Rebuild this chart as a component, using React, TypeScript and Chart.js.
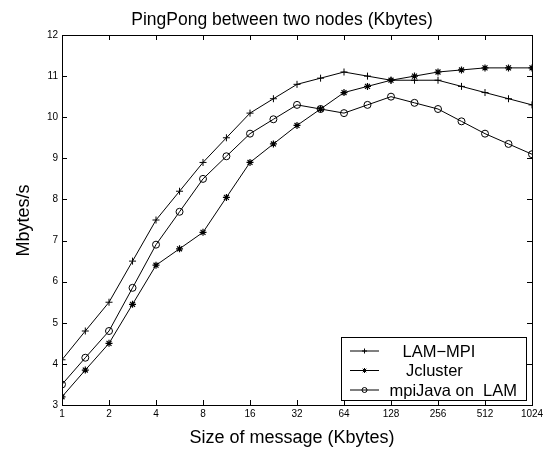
import React, { useEffect, useRef } from 'react';
import { Chart, registerables } from 'chart.js';

Chart.register(...registerables);

// Message sizes (Kbytes), half-octave steps
const sizes = [1, 1.41, 2, 2.83, 4, 5.66, 8, 11.3, 16, 22.6, 32, 45.3, 64, 90.5, 128, 181, 256, 362, 512, 724, 1024];
const lamMpi = [4.1, 4.8, 5.5, 6.5, 7.5, 8.2, 8.9, 9.5, 10.1, 10.45, 10.8, 10.95, 11.1, 11.0, 10.9, 10.9, 10.9, 10.75, 10.6, 10.45, 10.3];
const jcluster = [3.2, 3.85, 4.5, 5.45, 6.4, 6.8, 7.2, 8.05, 8.9, 9.35, 9.8, 10.2, 10.6, 10.75, 10.9, 11.0, 11.1, 11.15, 11.2, 11.2, 11.2];
const mpiJava = [3.5, 4.15, 4.8, 5.85, 6.9, 7.7, 8.5, 9.05, 9.6, 9.95, 10.3, 10.2, 10.1, 10.3, 10.5, 10.35, 10.2, 9.9, 9.6, 9.35, 9.1];

const xTicks = [1, 2, 4, 8, 16, 32, 64, 128, 256, 512, 1024];
const yTicks = [3, 4, 5, 6, 7, 8, 9, 10, 11, 12];
const seriesNames = ['LAM\u2212MPI', 'Jcluster', 'mpiJava on  LAM'];
const titleText = 'PingPong between two nodes (Kbytes)';
const xTitle = 'Size of message (Kbytes)';
const yTitle = 'Mbytes/s';

const FONT = '"Liberation Sans", Arial, Helvetica, sans-serif';

function drawMarker(ctx: CanvasRenderingContext2D, style: string, x: number, y: number, r: number) {
  ctx.beginPath();
  if (style === 'cross') {
    ctx.moveTo(x - r, y); ctx.lineTo(x + r, y);
    ctx.moveTo(x, y - r); ctx.lineTo(x, y + r);
  } else if (style === 'star') {
    ctx.moveTo(x - r, y); ctx.lineTo(x + r, y);
    ctx.moveTo(x, y - r); ctx.lineTo(x, y + r);
    const d = r * 0.707;
    ctx.moveTo(x - d, y - d); ctx.lineTo(x + d, y + d);
    ctx.moveTo(x - d, y + d); ctx.lineTo(x + d, y - d);
  } else {
    ctx.arc(x, y, r, 0, Math.PI * 2);
  }
  ctx.stroke();
}

const decorPlugin = {
  id: 'decor',
  afterDraw(chart: any) {
    const { ctx, chartArea: ca, scales } = chart;
    const xs = scales.x;
    const ys = scales.y;
    ctx.save();
    ctx.strokeStyle = '#000';
    ctx.lineWidth = 1;
    // frame
    ctx.strokeRect(ca.left + 0.5, ca.top + 0.5, ca.right - ca.left, ca.bottom - ca.top);
    // inward ticks
    ctx.beginPath();
    xTicks.forEach((v) => {
      const px = Math.round(xs.getPixelForValue(v)) + 0.5;
      ctx.moveTo(px, ca.bottom);
      ctx.lineTo(px, ca.bottom - 5);
      ctx.moveTo(px, ca.top);
      ctx.lineTo(px, ca.top + 5);
    });
    yTicks.forEach((v) => {
      const py = Math.round(ys.getPixelForValue(v)) + 0.5;
      ctx.moveTo(ca.left, py);
      ctx.lineTo(ca.left + 5, py);
      ctx.moveTo(ca.right, py);
      ctx.lineTo(ca.right - 5, py);
    });
    ctx.stroke();

    // titles
    ctx.fillStyle = '#000';
    ctx.textAlign = 'center';
    ctx.textBaseline = 'alphabetic';
    ctx.font = `17.5px ${FONT}`;
    ctx.fillText(titleText, 282, 25);
    ctx.font = `18px ${FONT}`;
    ctx.fillText(xTitle, 292, 443);
    ctx.save();
    ctx.translate(29, 220.5);
    ctx.rotate(-Math.PI / 2);
    ctx.fillText(yTitle, 0, 0);
    ctx.restore();

    // legend
    const bx = 341.5, by = 337.5, bw = 185, bh = 63;
    ctx.fillStyle = '#fff';
    ctx.fillRect(bx, by, bw, bh);
    ctx.strokeRect(bx, by, bw, bh);
    const rows = [351, 370.5, 390];
    const styles = ['cross', 'star', 'circle'];
    const textX = [402.5, 406, 389.5];
    ctx.font = `16.5px ${FONT}`;
    ctx.textAlign = 'left';
    ctx.fillStyle = '#000';
    rows.forEach((ry, i) => {
      ctx.beginPath();
      ctx.moveTo(350, ry);
      ctx.lineTo(379, ry);
      ctx.stroke();
      drawMarker(ctx, styles[i], 364.5, ry, i === 2 ? 2.5 : 2.5);
      ctx.fillText(seriesNames[i], textX[i], ry + 5.9);
    });
    ctx.restore();
  },
};

export default function App() {
  const ref = useRef<HTMLCanvasElement>(null);
  useEffect(() => {
    const canvas = ref.current;
    if (!canvas) return;
    const mk = (d: number[]) => sizes.map((s, i) => ({ x: s, y: d[i] }));
    const chart = new Chart(canvas, {
      type: 'line',
      data: {
        datasets: [
          {
            label: seriesNames[0], data: mk(lamMpi), borderColor: '#000', borderWidth: 1,
            pointStyle: 'cross', pointRadius: 3.5, pointBorderColor: '#000', pointBorderWidth: 1,
            backgroundColor: 'rgba(0,0,0,0)', tension: 0,
          },
          {
            label: seriesNames[1], data: mk(jcluster), borderColor: '#000', borderWidth: 1,
            pointStyle: 'star', pointRadius: 3.5, pointBorderColor: '#000', pointBorderWidth: 1.2,
            backgroundColor: 'rgba(0,0,0,0)', tension: 0,
          },
          {
            label: seriesNames[2], data: mk(mpiJava), borderColor: '#000', borderWidth: 1,
            pointStyle: 'circle', pointRadius: 3.5, pointBorderColor: '#000', pointBorderWidth: 1,
            pointBackgroundColor: 'rgba(0,0,0,0)', backgroundColor: 'rgba(0,0,0,0)', tension: 0,
          },
        ],
      },
      options: {
        responsive: false,
        animation: false,
        layout: { padding: { top: 35, right: 15, left: 0, bottom: 0 } },
        plugins: { legend: { display: false }, title: { display: false }, tooltip: { enabled: false } },
        scales: {
          x: {
            type: 'logarithmic',
            position: 'bottom',
            min: 1,
            max: 1024,
            afterBuildTicks: (s: any) => { s.ticks = xTicks.map((v) => ({ value: v })); },
            afterFit: (s: any) => { s.height = 48; },
            grid: { display: false, drawTicks: false },
            border: { display: false },
            ticks: {
              autoSkip: false, maxRotation: 0, padding: 3, color: '#000',
              font: { family: FONT, size: 10 },
              callback: (v: any) => String(v),
            },
          },
          y: {
            type: 'linear',
            position: 'left',
            min: 3,
            max: 12,
            afterBuildTicks: (s: any) => { s.ticks = yTicks.map((v) => ({ value: v })); },
            afterFit: (s: any) => { s.width = 62; },
            grid: { display: false, drawTicks: false },
            border: { display: false },
            ticks: {
              autoSkip: false, padding: 4, color: '#000',
              font: { family: FONT, size: 10 },
              callback: (v: any) => String(v),
            },
          },
        },
      },
      plugins: [decorPlugin],
    });
    return () => chart.destroy();
  }, []);
  return (
    <div style={{ position: 'fixed', left: 0, top: 0, width: 547, height: 453, background: '#fff' }}>
      <canvas ref={ref} width={547} height={453} />
    </div>
  );
}
